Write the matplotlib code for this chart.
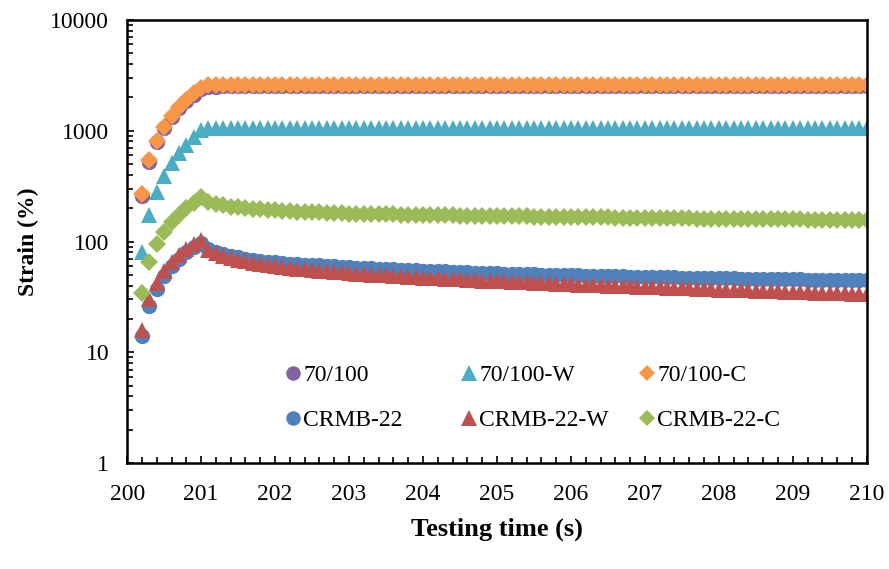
import numpy as np
import matplotlib
matplotlib.use("Agg")
import matplotlib.pyplot as plt
from matplotlib.ticker import LogLocator, MultipleLocator, FixedLocator, FixedFormatter

plt.rcParams['font.family'] = ['Liberation Serif', 'DejaVu Serif']

# time axis: creep 200.2-201.0, recovery 201.1-210.0 (0.1 s steps)
time = [round(200.2 + 0.1 * i, 1) for i in range(99)]

# 70/100
s_7010 = [255, 520, 790, 1060, 1320, 1590, 1850, 2120, 2380,
          2480, 2500, 2510, 2520, 2520, 2520, 2520, 2520, 2520, 2520,
          2520, 2520, 2520, 2520, 2520, 2520, 2520, 2520, 2520, 2520,
          2520, 2520, 2520, 2520, 2520, 2520, 2520, 2520, 2520, 2520,
          2520, 2520, 2520, 2520, 2520, 2520, 2520, 2520, 2520, 2520,
          2520, 2520, 2520, 2520, 2520, 2520, 2520, 2520, 2520, 2520,
          2520, 2520, 2520, 2520, 2520, 2520, 2520, 2520, 2520, 2520,
          2520, 2520, 2520, 2520, 2520, 2520, 2520, 2520, 2520, 2520,
          2520, 2520, 2520, 2520, 2520, 2520, 2520, 2520, 2520, 2520,
          2520, 2520, 2520, 2520, 2520, 2520, 2520, 2520, 2520, 2520]
# 70/100-W
s_7010w = [81, 175, 280, 390, 510, 630, 750, 880, 1020,
           1050, 1060, 1060, 1060, 1060, 1060, 1060, 1060, 1060, 1060,
           1060, 1060, 1060, 1060, 1060, 1060, 1060, 1060, 1060, 1060,
           1060, 1060, 1060, 1060, 1060, 1060, 1060, 1060, 1060, 1060,
           1060, 1060, 1060, 1060, 1060, 1060, 1060, 1060, 1060, 1060,
           1060, 1060, 1060, 1060, 1060, 1060, 1060, 1060, 1060, 1060,
           1060, 1060, 1060, 1060, 1060, 1060, 1060, 1060, 1060, 1060,
           1060, 1060, 1060, 1060, 1060, 1060, 1060, 1060, 1060, 1060,
           1060, 1060, 1060, 1060, 1060, 1060, 1060, 1060, 1060, 1060,
           1060, 1060, 1060, 1060, 1060, 1060, 1060, 1060, 1060, 1060]
# 70/100-C
s_7010c = [268, 540, 810, 1085, 1355, 1625, 1900, 2170, 2440,
           2560, 2590, 2600, 2600, 2600, 2600, 2600, 2600, 2600, 2600,
           2600, 2600, 2600, 2600, 2600, 2600, 2600, 2600, 2600, 2600,
           2600, 2600, 2600, 2600, 2600, 2600, 2600, 2600, 2600, 2600,
           2600, 2600, 2600, 2600, 2600, 2600, 2600, 2600, 2600, 2600,
           2600, 2600, 2600, 2600, 2600, 2600, 2600, 2600, 2600, 2600,
           2600, 2600, 2600, 2600, 2600, 2600, 2600, 2600, 2600, 2600,
           2600, 2600, 2600, 2600, 2600, 2600, 2600, 2600, 2600, 2600,
           2600, 2600, 2600, 2600, 2600, 2600, 2600, 2600, 2600, 2600,
           2600, 2600, 2600, 2600, 2600, 2600, 2600, 2600, 2600, 2600]
# CRMB-22
s_crmb = [14, 26, 37, 49, 60, 70, 80, 89, 97,
          85, 80, 77, 74, 72, 70, 68.5, 67, 66, 65,
          64, 63.3, 62.6, 62, 61.4, 60.8, 60.2, 59.6, 59.1, 58.6,
          58.2, 57.8, 57.4, 57.0, 56.6, 56.2, 55.8, 55.4, 55.0, 54.6,
          54.3, 54.0, 53.7, 53.4, 53.1, 52.8, 52.5, 52.2, 51.9, 51.6,
          51.4, 51.2, 51.0, 50.8, 50.6, 50.4, 50.2, 50.0, 49.8, 49.6,
          49.4, 49.2, 49.0, 48.9, 48.7, 48.5, 48.4, 48.2, 48.0, 47.9,
          47.8, 47.6, 47.5, 47.4, 47.2, 47.1, 47.0, 46.8, 46.7, 46.6,
          46.5, 46.4, 46.3, 46.2, 46.1, 46.0, 45.9, 45.8, 45.7, 45.6,
          45.5, 45.4, 45.3, 45.2, 45.1, 45.0, 45.0, 44.9, 44.8, 44.7]
# CRMB-22-W
s_crmbw = [16, 30, 42, 54, 65, 75, 85, 95, 103,
           84, 78, 74, 71, 68.5, 66.5, 64.5, 63, 61.5, 60,
           59, 58, 57, 56.2, 55.4, 54.6, 53.9, 53.2, 52.6, 52,
           51.4, 50.9, 50.4, 49.9, 49.4, 48.9, 48.5, 48.1, 47.7, 47.3,
           46.9, 46.5, 46.2, 45.8, 45.5, 45.1, 44.8, 44.5, 44.2, 43.9,
           43.6, 43.3, 43.0, 42.7, 42.5, 42.2, 41.9, 41.7, 41.4, 41.2,
           40.9, 40.7, 40.4, 40.2, 40.0, 39.8, 39.5, 39.3, 39.1, 38.9,
           38.7, 38.5, 38.3, 38.1, 37.9, 37.7, 37.5, 37.3, 37.1, 36.9,
           36.7, 36.5, 36.3, 36.2, 36.0, 35.8, 35.6, 35.5, 35.3, 35.1,
           35.0, 34.8, 34.6, 34.5, 34.3, 34.2, 34.0, 33.9, 33.7, 33.6]
# CRMB-22-C
s_crmbc = [34, 65, 95, 122, 150, 175, 200, 225, 250,
           228, 218, 212, 207, 203, 200, 197, 195, 193, 191,
           189, 187.5, 186, 185, 184, 183, 182, 181, 180, 179,
           178.5, 178, 177.4, 176.9, 176.3, 175.8, 175.3, 174.8, 174.3, 173.8,
           173.3, 172.9, 172.5, 172.1, 171.7, 171.3, 170.9, 170.5, 170.1, 169.7,
           169.3, 169, 168.6, 168.3, 167.9, 167.6, 167.2, 166.9, 166.6, 166.3,
           166, 165.7, 165.4, 165.1, 164.8, 164.5, 164.2, 163.9, 163.6, 163.3,
           163, 162.7, 162.5, 162.2, 161.9, 161.7, 161.4, 161.2, 160.9, 160.7,
           160.4, 160.2, 159.9, 159.7, 159.5, 159.2, 159, 158.8, 158.6, 158.3,
           158.1, 157.9, 157.7, 157.5, 157.3, 157.1, 156.9, 156.7, 156.5, 156.3]

labels = ['70/100', '70/100-W', '70/100-C', 'CRMB-22', 'CRMB-22-W', 'CRMB-22-C']
series = [s_7010, s_7010w, s_7010c, s_crmb, s_crmbw, s_crmbc]
colors = ['#8064A2', '#4BACC6', '#F79646', '#4F81BD', '#C0504D', '#9BBB59']
markers = ['o', '^', 'D', 'o', '^', 'D']
sizes = [11, 11.5, 9, 11, 11.5, 9]

fig = plt.figure(figsize=(8.89, 5.69), dpi=100)
ax = fig.add_axes([0.143, 0.186, 0.832, 0.779])

handles = []
for y, lab, c, m, s in zip(series, labels, colors, markers, sizes):
    h, = ax.plot(time, y, linestyle='none', marker=m, color=c, markersize=s,
                 markeredgewidth=0, label=lab)
    handles.append(h)

ax.set_yscale('log')
ax.set_ylim(1, 10000)
ax.set_xlim(200, 210)
ax.yaxis.set_major_locator(FixedLocator([1, 10, 100, 1000, 10000]))
ax.yaxis.set_major_formatter(FixedFormatter(['1', '10', '100', '1000', '10000']))
ax.yaxis.set_minor_locator(LogLocator(base=10, subs=np.arange(2, 10)))
ax.yaxis.set_minor_formatter(plt.NullFormatter())
ax.xaxis.set_major_locator(MultipleLocator(1))
ax.xaxis.set_minor_locator(MultipleLocator(0.2))

ax.tick_params(which='both', direction='in', labelsize=17, width=1.2)
ax.tick_params(which='major', length=5)
ax.tick_params(which='minor', length=4)
ax.tick_params(axis='x', pad=15)
ax.tick_params(axis='y', pad=13)
for sp in ax.spines.values():
    sp.set_linewidth(1.8)

ax.set_xlabel('Testing time (s)', fontsize=19, fontweight='bold', labelpad=9)
ax.set_ylabel('Strain (%)', fontsize=17, fontweight='bold', labelpad=8)

# Excel-style legend: three equal-width columns, two rows each
col_x = [0.2145, 0.452, 0.693]
for k in range(3):
    hs = [handles[k], handles[k + 3]]
    leg = ax.legend(hs, [labels[k], labels[k + 3]], frameon=False, fontsize=17,
                    loc='upper left', bbox_to_anchor=(col_x[k], 0.223),
                    borderaxespad=0, borderpad=0, handlelength=0.6,
                    handletextpad=0.15, labelspacing=1.0, markerscale=0.95)
    if k < 2:
        ax.add_artist(leg)

fig.savefig('out.png', dpi=100)
